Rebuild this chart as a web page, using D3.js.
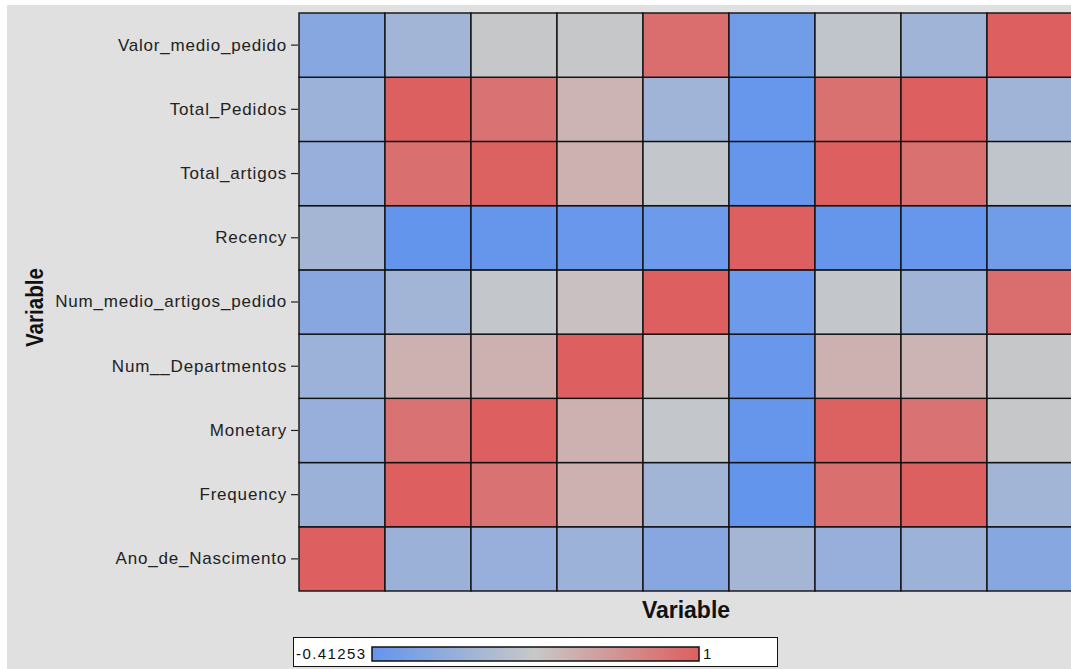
<!DOCTYPE html>
<html>
<head>
<meta charset="utf-8">
<script src="https://cdn.jsdelivr.net/npm/d3@7/dist/d3.min.js"></script>
<style>
  html, body { margin: 0; padding: 0; background: #ffffff; }
  svg { display: block; font-family: "Liberation Sans", Arial, sans-serif; }
</style>
</head>
<body>
<svg id="chart" width="1071" height="669"></svg>
<script>
// Variables, in the order used for both axes (y runs bottom to top)
const variables = [
  "Ano_de_Nascimento", "Frequency", "Monetary", "Num__Departmentos",
  "Num_medio_artigos_pedido", "Recency", "Total_artigos", "Total_Pedidos",
  "Valor_medio_pedido"
];

// Pearson correlations, one row per variable (same order as `variables`)
const corrAno      = [ 1.00, -0.02, -0.05, -0.01, -0.16,  0.05, -0.05, -0.01, -0.165];
const corrFreq     = [-0.02,  1.00,  0.87,  0.45,  0.03, -0.41253, 0.89, 0.99, 0.03];
const corrMonetary = [-0.05,  0.87,  1.00,  0.45,  0.26, -0.40,  0.98,  0.865, 0.28];
const corrNumDep   = [-0.01,  0.45,  0.45,  1.00,  0.34, -0.384, 0.455, 0.43,  0.28];
const corrNumMedio = [-0.16,  0.03,  0.26,  0.34,  1.00, -0.35,  0.26,  0.01,  0.90];
const corrRecency  = [ 0.05, -0.41253, -0.40, -0.384, -0.35, 1.00, -0.40, -0.39, -0.32];
const corrTotArt   = [-0.05,  0.89,  0.98,  0.455, 0.26, -0.40,  1.00,  0.88,  0.24];
const corrTotPed   = [-0.01,  0.99,  0.865, 0.43,  0.01, -0.39,  0.88,  1.00,  0.01];
const corrValor    = [-0.165, 0.03,  0.28,  0.28,  0.90, -0.32,  0.24,  0.01,  1.00];

const corrRows = [corrAno, corrFreq, corrMonetary, corrNumDep, corrNumMedio,
                  corrRecency, corrTotArt, corrTotPed, corrValor];

const cells = [];
corrRows.forEach((row, i) => row.forEach((v, j) => {
  cells.push({ rowVar: variables[i], colVar: variables[j], value: v });
}));

const svg = d3.select("#chart");
const W = 1071, H = 669;

// Grey graph wall
svg.append("rect").attr("x", 7).attr("y", 5).attr("width", W - 7).attr("height", H - 5)
  .attr("fill", "#e0e0e0");

const x = d3.scaleBand().domain(variables).range([299, 1073]).padding(0);
const y = d3.scaleBand().domain(variables.slice().reverse()).range([13, 591]).padding(0);

const vMin = d3.min(cells, d => d.value);
const vMax = d3.max(cells, d => d.value);
const color = d3.scaleLinear()
  .domain([vMin, (vMin + vMax) / 2, vMax])
  .range(["#6495ed", "#c8c8c8", "#dd5f5f"])
  .interpolate(d3.interpolateRgb);

// Heat map cells
svg.append("g").selectAll("rect").data(cells).join("rect")
  .attr("x", d => x(d.colVar))
  .attr("y", d => y(d.rowVar))
  .attr("width", x.bandwidth())
  .attr("height", y.bandwidth())
  .attr("fill", d => color(d.value))
  .attr("stroke", "#111")
  .attr("stroke-width", 1.4);

// Y axis
const yAxis = svg.append("g").attr("transform", "translate(298,0)")
  .call(d3.axisLeft(y).tickSize(7).tickPadding(4));
yAxis.select(".domain").remove();
yAxis.selectAll(".tick line").attr("stroke", "#222").attr("stroke-width", 1.2);
yAxis.selectAll(".tick text")
  .attr("fill", "#222")
  .style("font-size", "17px")
  .style("letter-spacing", "0.8px")
  .style("font-family", "'Liberation Sans', Arial, sans-serif");

// Axis titles
svg.append("text")
  .attr("x", (x.range()[0] + x.range()[1]) / 2).attr("y", 618)
  .attr("text-anchor", "middle")
  .attr("font-weight", "bold").attr("font-size", 23).attr("fill", "#111")
  .text("Variable");

svg.append("text")
  .attr("transform", "translate(43,307.5) rotate(-90)")
  .attr("text-anchor", "middle")
  .attr("font-weight", "bold").attr("font-size", 23).attr("fill", "#111")
  .attr("textLength", 79).attr("lengthAdjust", "spacingAndGlyphs")
  .text("Variable");

// Colour legend
const legend = svg.append("g");
legend.append("rect").attr("x", 293.5).attr("y", 637.5).attr("width", 484).attr("height", 29)
  .attr("fill", "#ffffff").attr("stroke", "#111").attr("stroke-width", 1);

const grad = svg.append("defs").append("linearGradient").attr("id", "rampGrad")
  .attr("x1", "0%").attr("x2", "100%").attr("y1", "0%").attr("y2", "0%");
color.domain().forEach(v => {
  grad.append("stop")
    .attr("offset", ((v - vMin) / (vMax - vMin) * 100) + "%")
    .attr("stop-color", color(v));
});

const lx = d3.scaleLinear().domain([vMin, vMax]).range([372, 699]);
legend.append("rect").attr("x", lx(vMin)).attr("y", 647).attr("width", lx(vMax) - lx(vMin)).attr("height", 14)
  .attr("fill", "url(#rampGrad)").attr("stroke", "#111").attr("stroke-width", 1.5);

const fmtEnd = v => d3.format(".5~f")(v).replace("\u2212", "-");
legend.append("text").attr("x", 296).attr("y", 659)
  .attr("font-size", 15).attr("letter-spacing", "1.4px").attr("fill", "#111")
  .text(fmtEnd(vMin));
legend.append("text").attr("x", lx(vMax) + 4).attr("y", 659)
  .attr("font-size", 15).attr("fill", "#111")
  .text(fmtEnd(vMax));
</script>
</body>
</html>
